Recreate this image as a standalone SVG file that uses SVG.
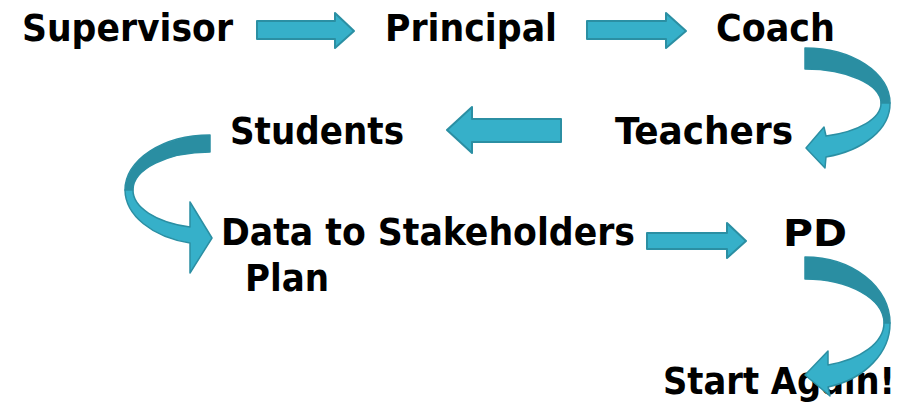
<svg xmlns="http://www.w3.org/2000/svg" width="903" height="407" viewBox="0 0 903 407">
<style>
.t{font-family:"DejaVu Sans Condensed","DejaVu Sans",Verdana,sans-serif;font-weight:bold;font-size:37px;fill:#000}
.a{fill:#36b0c9;stroke:#2b8fa3;stroke-width:2;stroke-linejoin:round}
.d{fill:#2a8ea2;stroke:#2b8fa3;stroke-width:1.5;stroke-linejoin:round}
.l{fill:#36b0c9;stroke:#2b8fa3;stroke-width:1.5;stroke-linejoin:round}
</style>
<rect width="903" height="407" fill="#fff"/>
<g id="supervisor"><text class="t" x="22" y="41" textLength="211" lengthAdjust="spacingAndGlyphs">Supervisor</text></g>
<g id="principal"><text class="t" x="385" y="41" textLength="172" lengthAdjust="spacingAndGlyphs">Principal</text></g>
<g id="coach"><text class="t" x="716" y="41" textLength="119" lengthAdjust="spacingAndGlyphs">Coach</text></g>
<g id="students"><text class="t" x="230" y="144" textLength="174" lengthAdjust="spacingAndGlyphs">Students</text></g>
<g id="teachers"><text class="t" x="615" y="144" textLength="178" lengthAdjust="spacingAndGlyphs">Teachers</text></g>
<g id="data"><text class="t" x="221" y="245" textLength="414" lengthAdjust="spacingAndGlyphs">Data to Stakeholders</text><text class="t" x="245" y="291" textLength="84" lengthAdjust="spacingAndGlyphs">Plan</text></g>
<g id="pd"><text class="t" x="783" y="246" textLength="64" lengthAdjust="spacingAndGlyphs">PD</text></g>
<g id="start"><text class="t" x="663" y="394" textLength="232" lengthAdjust="spacingAndGlyphs">Start Again!</text></g>
<g id="connectors">
<path class="a" d="M257,21 H335 V13 L354,31 L335,48 V39 H257 Z"/>
<path class="a" d="M587,21 H666 V13 L686,31 L666,48 V39 H587 Z"/>
<path class="a" d="M561,119 H472 V107 L447,130 L472,153 V142 H561 Z"/>
<path class="a" d="M647,233 H727 V223 L746,241 L727,258 V249 H647 Z"/>
<path class="d" d="M805,48 A85,55 0 0 1 890,103 L881,103 A76,34 0 0 0 805,69 Z"/>
<path class="l" d="M890,103 A85,55 0 0 1 826,157 L825,168 L806,148 L824,127 L826,136 A76,34 0 0 0 881,103 Z"/>
<path class="d" d="M210,135 A85,55 0 0 0 125,190 L133,190 A77,38 0 0 1 210,152 Z"/>
<path class="l" d="M125,190 A85,55 0 0 0 190,243 L190,273 L212,238 L190,202 L190,227 A77,38 0 0 1 133,190 Z"/>
<path class="d" d="M805,257 A85,66 0 0 1 890,323 L884,323 A79,44 0 0 0 805,279 Z"/>
<path class="l" d="M890,323 A85,66 0 0 1 828,387 L830,396 L805,375 L828,351 L828,365 A79,44 0 0 0 884,323 Z"/>
</g>
</svg>
